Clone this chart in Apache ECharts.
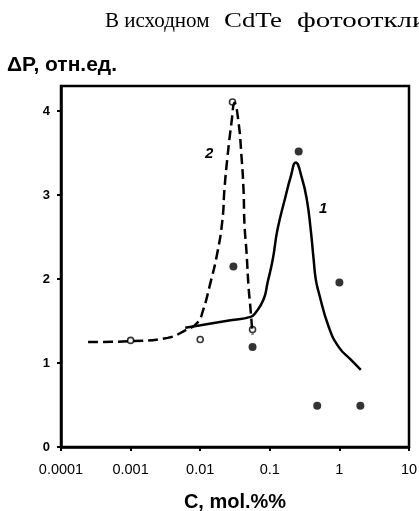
<!DOCTYPE html>
<html>
<head>
  <meta charset="utf-8" />
  <title>ΔP vs C</title>
  <style>
    html, body { margin: 0; padding: 0; background: #fff; }
    #main { width: 419px; height: 511px; }
  </style>
</head>
<body>
  <div id="main"></div>
  <script src="https://cdn.jsdelivr.net/npm/echarts@6/dist/echarts.min.js"></script>
  <script>
    // axis ticks
    var xTicks = [0.0001, 0.001, 0.01, 0.1, 1, 10];
    var yTicks = [0, 1, 2, 3, 4];

    // curve 1 (solid)
    var curve1C = [0.0061, 0.0101, 0.0272, 0.0528, 0.0624, 0.0815, 0.093, 0.110, 0.129, 0.169, 0.200, 0.2355, 0.29, 0.34, 0.387, 0.427, 0.457, 0.505, 0.703, 0.98, 1.46, 2.03];
    var curve1P = [1.42, 1.45, 1.51, 1.55, 1.60, 1.76, 1.96, 2.23, 2.59, 2.99, 3.22, 3.39, 3.20, 2.95, 2.59, 2.23, 2.00, 1.84, 1.43, 1.19, 1.04, 0.92];

    // curve 2 (dashed)
    var curve2C = [0.000245, 0.001, 0.0034, 0.0061, 0.0091, 0.0111, 0.0136, 0.0177, 0.0209, 0.0223, 0.0247, 0.0282, 0.0311, 0.0355, 0.0392, 0.0419, 0.0433, 0.0463, 0.0495, 0.0529, 0.0565];
    var curve2P = [1.25, 1.26, 1.30, 1.39, 1.48, 1.64, 1.91, 2.32, 2.71, 3.07, 3.46, 3.87, 4.10, 3.87, 3.46, 3.07, 2.65, 2.32, 1.91, 1.64, 1.34];

    // measured points, series 1 (filled) and series 2 (open)
    var dots1C = [0.030, 0.0565, 0.26, 0.48, 1.0, 2.0];
    var dots1P = [2.15, 1.19, 3.52, 0.49, 1.96, 0.49];
    var dots2C = [0.001, 0.01, 0.0291, 0.0565];
    var dots2P = [1.27, 1.28, 4.11, 1.40];

    function pairs(xs, ys) {
      var out = [];
      for (var i = 0; i < xs.length; i++) out.push([xs[i], ys[i]]);
      return out;
    }

    function serifWord(text, x, sx) {
      return {
        type: 'text', x: x, y: 11, scaleX: sx,
        style: { text: text, fontFamily: 'Liberation Serif', fontSize: 21, fill: '#000', align: 'left', verticalAlign: 'top' }
      };
    }

    var chart = echarts.init(document.getElementById('main'), null, { renderer: 'canvas' });

    chart.setOption({
      animation: false,
      backgroundColor: '#fff',
      grid: {
        left: 61, right: 10, top: 86, bottom: 64,
        outerBoundsMode: 'none',
        containLabel: false,
        show: true, borderColor: '#000', borderWidth: 2.5
      },
      xAxis: {
        type: 'log',
        logBase: 10,
        min: 0.0001,
        max: 10,
        name: 'C, mol.%%',
        nameLocation: 'middle',
        nameGap: 45,
        nameTextStyle: { fontFamily: 'Liberation Sans', fontWeight: 'bold', fontSize: 20, color: '#000' },
        axisLine: { lineStyle: { color: '#000', width: 2.5 } },
        axisTick: { show: true, length: 4, lineStyle: { color: '#000', width: 2 }, customValues: xTicks },
        minorTick: { show: false },
        splitLine: { show: false },
        axisLabel: {
          customValues: xTicks,
          margin: 15,
          fontFamily: 'Liberation Sans',
          fontSize: 14.5,
          color: '#000',
          formatter: function (v) { return String(+Number(v).toPrecision(1)); }
        }
      },
      yAxis: {
        type: 'value',
        min: 0,
        max: 4.3,
        axisLine: { show: true, lineStyle: { color: '#000', width: 2.5 } },
        axisTick: { show: true, length: 4, lineStyle: { color: '#000', width: 2 }, customValues: yTicks },
        splitLine: { show: false },
        axisLabel: {
          customValues: yTicks,
          margin: 11,
          fontFamily: 'Liberation Sans',
          fontWeight: 'bold',
          fontSize: 13,
          color: '#000'
        }
      },
      graphic: [
        // cropped line of body text above the figure
        serifWord('В исходном', 105, 1),
        serifWord('CdTe', 224, 1.28),
        serifWord('фотоотклик', 297, 1.38),
        {
          type: 'text', left: 7, top: 55,
          style: { text: 'ΔP, отн.ед.', fontFamily: 'Liberation Sans', fontWeight: 'bold', fontSize: 21, fill: '#000' }
        },
        {
          type: 'text', left: 205, top: 146,
          style: { text: '2', fontFamily: 'Liberation Sans', fontWeight: 'bold', fontStyle: 'italic', fontSize: 15, fill: '#000' }
        },
        {
          type: 'text', left: 319, top: 201,
          style: { text: '1', fontFamily: 'Liberation Sans', fontWeight: 'bold', fontStyle: 'italic', fontSize: 15, fill: '#000' }
        }
      ],
      series: [
        {
          name: '1',
          type: 'line',
          data: pairs(curve1C, curve1P),
          smooth: 0.5,
          showSymbol: false,
          lineStyle: { color: '#000', width: 2.5 }
        },
        {
          name: '2',
          type: 'line',
          data: pairs(curve2C, curve2P),
          smooth: 0.5,
          showSymbol: false,
          lineStyle: { color: '#000', width: 2.5, type: [10, 5] }
        },
        {
          name: 'points 1',
          type: 'scatter',
          data: pairs(dots1C, dots1P),
          symbol: 'circle',
          symbolSize: 8,
          itemStyle: { color: '#000' }
        },
        {
          name: 'points 2',
          type: 'scatter',
          data: pairs(dots2C, dots2P),
          symbol: 'circle',
          symbolSize: 6,
          itemStyle: { color: '#fff', borderColor: '#000', borderWidth: 1.6 }
        }
      ]
    });
  </script>
</body>
</html>
